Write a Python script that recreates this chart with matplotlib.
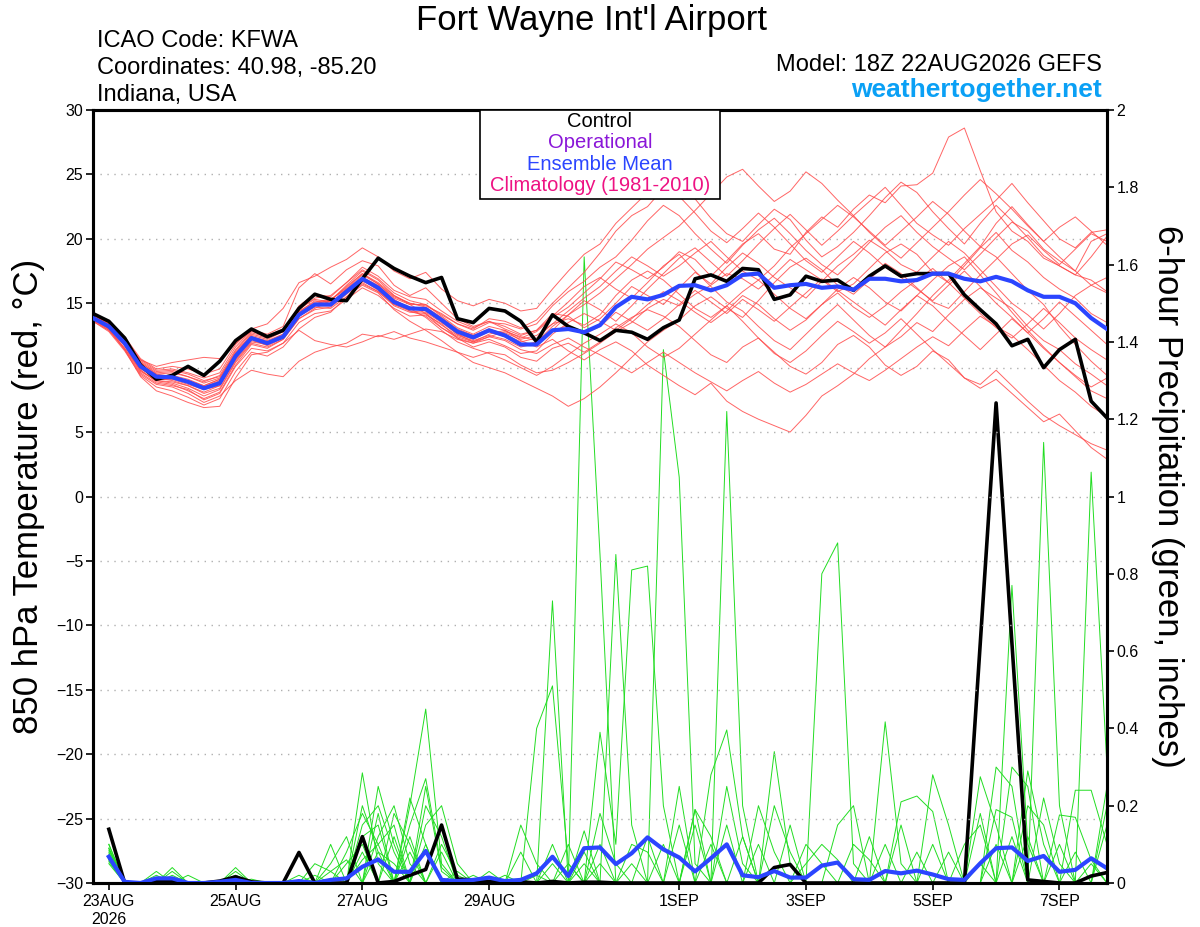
"""
GEFS plume for Fort Wayne (KFWA): 850 hPa temperature and 6-hour precipitation.
Values read off the reference chart.
"""

import pandas as pd
import matplotlib.pyplot as plt

plt.rcParams["font.family"] = ["Liberation Sans", "DejaVu Sans"]

# 6-hourly times: temperatures start at the 18Z analysis, precip at the first 6h total
temp_times = pd.date_range("2026-08-22 18:00", periods=65, freq="6h")
precip_times = pd.date_range("2026-08-23 00:00", periods=64, freq="6h")

tick_dates = pd.to_datetime(["2026-08-23", "2026-08-25", "2026-08-27", "2026-08-29",
                             "2026-09-01", "2026-09-03", "2026-09-05", "2026-09-07"])
tick_labels = ["23AUG\n2026", "25AUG", "27AUG", "29AUG", "1SEP", "3SEP", "5SEP", "7SEP"]

# control run (black) and ensemble mean (blue), 850 hPa temperature in C
control_temp = [14.2, 13.6, 12.3, 10.2, 9.1, 9.4, 10.1, 9.4, 10.5, 12.1, 13.0, 12.4, 12.9,
                14.6, 15.7, 15.3, 15.2, 16.9, 18.5, 17.7, 17.1, 16.6, 17.0, 13.8, 13.5, 14.6,
                14.4, 13.6, 12.0, 14.1, 13.2, 12.7, 12.1, 12.9, 12.75, 12.2, 13.1, 13.7, 16.9,
                17.2, 16.7, 17.7, 17.6, 15.3, 15.65, 17.1, 16.7, 16.8, 16.0, 17.1, 17.9, 17.1,
                17.3, 17.3, 17.3, 15.65, 14.5, 13.4, 11.7, 12.2, 10.0, 11.4, 12.2, 7.4, 6.1]
mean_temp = [13.85, 13.2, 11.9, 10.1, 9.3, 9.25, 8.9, 8.4, 8.8, 10.9, 12.3, 11.9, 12.4,
             14.1, 14.9, 14.9, 15.9, 16.9, 16.2, 15.1, 14.6, 14.55, 13.7, 12.8, 12.35, 12.9,
             12.5, 11.8, 11.8, 12.9, 13.0, 12.75, 13.3, 14.7, 15.5, 15.3, 15.65, 16.35, 16.4,
             16.0, 16.4, 17.2, 17.3, 16.2, 16.4, 16.5, 16.2, 16.3, 16.05, 16.9, 16.9, 16.7,
             16.8, 17.3, 17.3, 16.9, 16.7, 17.05, 16.7, 16.0, 15.5, 15.5, 15.0, 13.85, 13.0]

# ensemble members (red)
red_m01 = [13.9, 13.0, 11.5, 9.8, 8.9, 8.7, 8.2, 7.6, 8.1, 10.2, 11.8, 11.5, 12.2,
           13.8, 14.6, 15.2, 16.4, 17.5, 16.8, 15.6, 14.9, 14.2, 13.1, 12.4, 12.0, 12.6,
           12.9, 12.3, 12.8, 13.9, 14.7, 15.8, 16.9, 18.2, 17.6, 16.9, 17.8, 19.0, 18.4,
           17.1, 18.3, 19.6, 20.4, 19.2, 18.8, 20.5, 21.7, 20.9, 22.3, 23.4, 22.8, 24.1,
           24.2, 25.1, 27.9, 28.6, 25.3, 22.1, 20.6, 19.8, 18.5, 17.9, 17.2, 16.8, 15.9]
red_m02 = [13.6, 12.9, 11.4, 9.3, 8.2, 7.8, 7.3, 6.9, 7.0, 9.2, 11.0, 11.2, 11.9,
           13.5, 14.2, 14.4, 15.3, 16.2, 15.6, 14.6, 14.0, 14.1, 13.4, 12.3, 11.6, 12.0,
           11.6, 10.8, 10.5, 11.5, 11.9, 11.2, 12.0, 13.1, 13.9, 14.5, 14.0, 13.2, 12.1,
           11.0, 10.4, 11.6, 12.3, 11.2, 10.1, 9.5, 10.4, 11.8, 12.5, 11.6, 10.2, 9.4,
           10.1, 11.3, 10.6, 9.2, 8.4, 9.1, 8.0, 6.9, 5.8, 6.4, 5.1, 3.8, 2.9]
red_m03 = [14.0, 13.4, 12.1, 10.4, 9.6, 9.7, 9.3, 8.8, 9.2, 11.3, 12.7, 12.4, 12.9,
           14.5, 15.4, 15.6, 16.6, 17.6, 16.9, 15.8, 15.2, 14.9, 14.0, 13.1, 12.6, 13.2,
           12.9, 12.1, 11.6, 12.2, 11.3, 10.6, 11.4, 12.0, 11.3, 10.2, 9.4, 8.6, 7.9,
           8.8, 7.4, 6.6, 6.0, 5.5, 5.0, 6.3, 7.8, 8.6, 9.5, 10.7, 11.6, 12.4,
           13.5, 12.8, 14.1, 15.3, 16.2, 15.4, 14.6, 13.2, 12.1, 11.4, 10.3, 9.5, 8.6]
red_m04 = [13.8, 13.1, 11.8, 10.0, 9.2, 9.0, 8.6, 8.1, 8.6, 10.6, 12.1, 11.8, 12.5,
           14.3, 15.2, 15.0, 16.1, 17.2, 16.5, 15.4, 14.9, 14.9, 14.1, 13.4, 13.0, 13.8,
           13.6, 13.1, 13.7, 15.0, 16.2, 17.4, 18.9, 20.6, 21.8, 22.5, 23.9, 24.6, 23.1,
           21.6, 20.4, 19.8, 21.1, 22.3, 21.5, 19.9, 18.6, 19.4, 20.5, 21.8, 23.2, 24.4,
           23.6, 22.1, 20.8, 19.6, 21.2, 22.6, 21.4, 20.1, 18.7, 17.9, 17.2, 18.6, 20.2]
red_m05 = [13.7, 13.0, 11.4, 9.5, 8.7, 8.5, 8.0, 7.3, 7.8, 9.0, 9.8, 9.5, 9.3,
           10.5, 11.2, 11.6, 11.9, 12.6, 12.4, 12.8, 12.3, 12.0, 11.6, 11.2, 10.8, 11.2,
           11.0, 10.2, 9.6, 9.8, 10.4, 11.1, 11.9, 12.8, 13.5, 14.6, 15.3, 14.8, 15.7,
           16.4, 17.3, 16.9, 16.1, 17.2, 18.4, 17.6, 16.8, 15.9, 16.5, 17.7, 18.9, 19.6,
           18.8, 17.4, 16.6, 17.9, 19.3, 20.5, 19.1, 18.2, 17.0, 16.1, 15.4, 14.2, 13.5]
red_m06 = [14.1, 13.3, 12.0, 10.6, 10.1, 10.4, 10.6, 10.8, 10.7, 11.9, 12.9, 12.4, 12.8,
           14.0, 14.7, 14.6, 15.5, 16.4, 15.8, 14.5, 13.6, 12.9, 12.1, 11.2, 10.4, 10.0,
           9.6, 9.0, 8.4, 7.8, 7.0, 7.6, 8.5, 9.6, 10.8, 12.0, 12.9, 13.7, 14.8,
           15.5, 14.6, 13.9, 15.2, 16.6, 17.8, 18.5, 17.6, 16.4, 15.7, 16.8, 18.1, 17.3,
           16.2, 15.1, 14.6, 15.9, 17.2, 18.4, 19.6, 20.3, 19.1, 18.0, 19.2, 20.4, 19.8]
red_m07 = [13.9, 13.2, 12.0, 10.2, 9.5, 9.3, 9.0, 8.6, 9.1, 11.2, 12.5, 12.2, 12.8,
           14.8, 15.7, 15.5, 16.6, 17.8, 17.1, 16.0, 15.5, 15.3, 14.4, 13.6, 13.1, 13.6,
           13.2, 12.6, 12.9, 14.0, 15.1, 16.3, 17.0, 16.1, 15.4, 16.6, 17.9, 18.8, 17.5,
           16.3, 15.1, 14.4, 13.2, 12.1, 11.4, 12.6, 13.8, 14.9, 13.7, 12.5, 11.6, 12.9,
           14.2, 15.6, 16.8, 18.1, 19.4, 18.6, 17.3, 16.0, 14.9, 13.2, 11.8, 10.5, 9.4]
red_m08 = [13.8, 13.3, 12.1, 10.4, 9.5, 9.6, 9.3, 8.9, 9.4, 11.4, 12.8, 12.5, 13.0,
           14.6, 15.3, 15.1, 15.9, 16.8, 16.0, 14.9, 14.4, 14.3, 13.5, 12.6, 12.2, 12.8,
           12.4, 11.7, 12.0, 13.2, 14.1, 14.9, 15.8, 16.9, 18.0, 19.2, 20.1, 21.0, 22.2,
           23.5, 24.8, 25.4, 24.1, 22.9, 23.7, 25.2, 24.3, 23.0, 21.8, 22.9, 24.0, 22.6,
           21.2, 20.3, 19.5, 20.8, 21.9, 23.0, 24.3, 22.8, 21.4, 20.0, 19.3, 20.5, 20.7]
red_m09 = [13.6, 12.8, 11.3, 9.4, 8.5, 8.2, 7.7, 7.1, 7.6, 9.7, 11.2, 10.9, 11.6,
           13.0, 13.9, 14.3, 15.5, 16.5, 15.9, 14.9, 14.5, 14.6, 13.8, 12.9, 12.5, 12.9,
           12.7, 12.2, 12.5, 13.4, 13.8, 13.3, 14.1, 15.6, 16.8, 17.5, 16.8, 15.7, 14.6,
           13.9, 14.8, 15.9, 16.8, 15.7, 14.6, 13.8, 14.9, 16.1, 17.0, 16.2, 15.1, 14.4,
           15.6, 16.8, 17.9, 18.6, 17.2, 15.8, 14.3, 12.9, 11.6, 10.4, 9.3, 8.2, 7.6]
red_m10 = [14.0, 13.5, 12.3, 10.6, 9.8, 9.9, 9.6, 9.2, 9.6, 11.6, 12.9, 12.6, 13.2,
           16.2, 17.3, 16.5, 17.6, 18.3, 17.9, 16.4, 15.6, 16.2, 15.0, 13.8, 13.2, 13.6,
           13.0, 12.5, 12.9, 14.2, 14.0, 13.1, 13.8, 15.0, 16.3, 15.6, 14.9, 16.2, 17.4,
           16.5, 17.8, 18.9, 18.1, 17.0, 16.2, 15.4, 16.7, 17.9, 18.8, 19.9, 19.1, 18.0,
           17.4, 18.6, 19.8, 18.9, 17.6, 16.3, 15.0, 14.1, 13.0, 14.2, 15.6, 16.4, 17.0]
red_m11 = [13.8, 13.0, 11.7, 9.8, 9.0, 8.8, 8.4, 7.8, 8.3, 10.4, 11.9, 11.6, 12.2,
           13.8, 14.5, 14.7, 15.7, 16.7, 16.2, 15.2, 14.7, 14.4, 13.6, 12.6, 12.0, 12.4,
           12.1, 11.4, 11.1, 11.8, 12.3, 11.6, 11.0, 10.3, 9.6, 10.4, 11.2, 10.4, 9.6,
           8.9, 8.2, 9.0, 9.7, 8.8, 8.1, 8.7, 9.5, 10.3, 9.6, 9.0, 9.8, 10.7,
           11.6, 12.4, 11.7, 12.9, 14.0, 13.2, 12.5, 11.4, 10.2, 9.0, 8.1, 7.0, 6.2]
red_m12 = [14.1, 13.4, 12.2, 10.5, 9.7, 9.8, 9.5, 9.0, 9.3, 11.1, 12.6, 12.3, 12.8,
           14.4, 15.1, 15.3, 16.2, 17.3, 16.5, 15.5, 15.0, 14.8, 14.2, 13.4, 12.9, 13.5,
           13.4, 13.0, 13.4, 14.8, 15.9, 16.7, 17.8, 18.6, 19.9, 21.4, 22.6, 21.8, 20.4,
           19.2, 18.1, 19.5, 20.7, 21.6, 20.4, 19.1, 18.0, 17.2, 18.4, 19.7, 20.9, 21.8,
           20.5, 19.4, 18.5, 17.6, 18.8, 20.1, 21.3, 20.6, 19.2, 18.3, 17.5, 16.4, 15.8]
red_m13 = [13.7, 13.1, 11.9, 10.1, 9.1, 9.1, 8.7, 8.3, 8.6, 10.7, 12.2, 11.7, 12.3,
           14.0, 14.8, 14.8, 15.8, 16.9, 16.3, 15.1, 14.4, 14.0, 13.1, 12.3, 11.9, 12.2,
           11.7, 11.1, 11.3, 12.6, 13.5, 14.2, 13.6, 12.9, 13.8, 14.9, 15.9, 15.2, 14.3,
           13.5, 14.4, 15.6, 14.9, 13.8, 12.9, 13.7, 14.9, 15.8, 14.7, 13.9, 14.8, 15.9,
           16.8, 17.7, 16.6, 15.4, 14.2, 13.1, 12.3, 13.4, 14.6, 13.5, 12.3, 11.4, 10.6]
red_m14 = [14.0, 13.3, 11.8, 9.9, 9.2, 9.2, 8.8, 8.5, 9.0, 11.1, 12.4, 12.1, 12.6,
           14.2, 15.0, 15.2, 16.3, 17.3, 16.6, 15.6, 15.0, 14.7, 13.9, 13.0, 12.5, 13.0,
           12.6, 12.0, 12.3, 13.4, 14.4, 15.4, 16.3, 17.5, 18.6, 17.9, 17.1, 17.9, 18.9,
           19.8, 18.6, 17.5, 16.8, 17.9, 19.3, 20.4, 21.5, 22.6, 21.7, 20.6, 19.5, 20.6,
           21.7, 22.9, 21.9, 20.6, 19.4, 21.2, 22.5, 21.1, 19.8, 18.6, 17.5, 19.8, 20.4]
red_m15 = [13.9, 13.1, 11.7, 9.7, 9.0, 8.9, 8.6, 8.0, 8.4, 10.5, 12.0, 11.8, 12.4,
           14.0, 14.9, 15.3, 16.1, 17.0, 16.4, 15.3, 14.6, 13.9, 12.9, 12.0, 11.5, 11.1,
           10.6, 10.0, 9.4, 10.1, 11.0, 11.9, 12.6, 13.4, 12.7, 11.6, 10.8, 11.5, 12.6,
           13.7, 14.8, 13.6, 12.3, 11.1, 10.4, 11.3, 12.5, 13.6, 12.8, 11.9, 12.7, 13.8,
           12.6, 11.4, 10.3, 9.2, 8.7, 9.8, 8.6, 7.4, 6.3, 5.5, 4.8, 4.1, 3.6]
red_m16 = [14.2, 13.5, 12.4, 10.7, 9.9, 10.1, 9.9, 9.5, 9.9, 11.8, 13.0, 13.4, 14.6,
           16.6, 17.1, 17.8, 18.4, 19.3, 18.6, 17.5, 16.9, 17.4, 16.1, 15.2, 14.8, 15.3,
           15.0, 14.4, 14.6, 16.1, 17.5, 18.8, 19.6, 21.2, 22.4, 23.6, 24.5, 23.3, 22.0,
           20.6, 19.7, 20.8, 22.0, 20.9, 19.6, 18.3, 17.4, 18.6, 19.8, 18.9, 17.8, 17.0,
           16.1, 15.2, 16.4, 17.5, 16.3, 15.0, 13.9, 12.7, 13.8, 15.1, 14.0, 12.9, 11.8]
red_m17 = [13.7, 12.9, 11.5, 9.6, 8.8, 8.6, 8.3, 7.5, 8.0, 10.1, 11.5, 11.3, 11.9,
           12.9, 12.1, 11.8, 11.6, 12.0, 12.5, 12.2, 12.6, 13.0, 12.8, 12.2, 11.9, 12.4,
           12.8, 12.4, 12.1, 12.9, 14.1, 15.2, 14.5, 13.6, 14.8, 16.1, 17.3, 18.5, 19.3,
           18.2, 17.1, 18.3, 19.6, 20.8, 21.9, 20.7, 19.5, 20.6, 21.8, 20.5, 19.4, 18.5,
           19.7, 20.9, 22.1, 23.4, 24.6, 23.5, 22.3, 21.0, 19.8, 20.9, 21.7, 20.6, 19.5]
red_m18 = [13.8, 13.2, 12.0, 10.3, 9.4, 9.4, 9.1, 8.6, 9.1, 11.0, 12.4, 12.0, 12.6,
           14.3, 15.0, 14.9, 15.8, 16.6, 15.9, 14.8, 14.3, 14.2, 13.3, 12.5, 12.1, 12.5,
           12.2, 11.6, 11.9, 12.8, 13.3, 12.6, 13.2, 14.3, 13.6, 12.9, 13.8, 14.9, 16.0,
           15.1, 14.2, 15.3, 14.5, 13.6, 14.7, 15.8, 16.9, 16.0, 15.1, 14.2, 13.3, 14.5,
           15.6, 14.8, 13.6, 12.5, 11.4, 12.6, 13.8, 12.7, 11.5, 10.4, 9.4, 8.5, 9.2]
red_members = [red_m01, red_m02, red_m03, red_m04, red_m05, red_m06, red_m07, red_m08, red_m09,
               red_m10, red_m11, red_m12, red_m13, red_m14, red_m15, red_m16, red_m17, red_m18]

# 6-hour precipitation, inches: control (black) and ensemble mean (blue)
control_precip = [0.139, 0.0, 0.0, 0.004, 0.004, 0.0, 0.0, 0.005, 0.016, 0.003, 0.0, 0.0, 0.079,
                  0.0, 0.0, 0.0, 0.12, 0.0, 0.004, 0.02, 0.035, 0.15, 0.01, 0.008, 0.004, 0.005,
                  0.003, 0.0, 0.004, 0.0, 0.002, 0.002, 0.0, 0.0, 0.0, 0.0, 0.0, 0.0, 0.0,
                  0.0, 0.0, 0.0, 0.04, 0.048, 0.0, 0.0, 0.0, 0.0, 0.0, 0.0, 0.0, 0.0,
                  0.0, 0.0, 0.0, 0.62, 1.242, 0.62, 0.008, 0.004, 0.0, 0.0, 0.018, 0.027]
mean_precip = [0.068, 0.003, 0.0, 0.012, 0.012, 0.0, 0.0, 0.003, 0.008, 0.0, 0.0, 0.0, 0.005,
               0.0, 0.008, 0.012, 0.042, 0.061, 0.029, 0.029, 0.083, 0.008, 0.005, 0.008, 0.014, 0.005,
               0.008, 0.025, 0.068, 0.018, 0.09, 0.092, 0.049, 0.077, 0.118, 0.087, 0.066, 0.03, 0.064,
               0.1, 0.02, 0.015, 0.031, 0.014, 0.014, 0.045, 0.053, 0.010, 0.008, 0.031, 0.025, 0.032,
               0.022, 0.01, 0.008, 0.051, 0.09, 0.092, 0.057, 0.07, 0.029, 0.034, 0.064, 0.038]

# ensemble members (green): {6-hour step: inches}, every other step is dry
green_m01 = {0: 0.08, 4: 0.02, 16: 0.285, 17: 0.05, 20: 0.1, 28: 0.73, 35: 0.1,
             45: 0.8, 46: 0.88, 47: 0.05, 57: 0.77, 58: 0.1}
green_m02 = {0: 0.1, 3: 0.03, 8: 0.04, 14: 0.05, 15: 0.12, 19: 0.2, 20: 0.45, 21: 0.05,
             30: 1.62, 31: 0.85, 37: 0.19, 38: 0.12, 59: 1.14, 60: 0.2}
green_m03 = {0: 0.06, 4: 0.04, 13: 0.02, 16: 0.15, 17: 0.2, 18: 0.08, 27: 0.4, 28: 0.51,
             29: 0.05, 35: 1.38, 36: 1.05, 37: 0.05, 49: 0.417, 50: 0.05, 62: 1.063, 63: 0.3}
green_m04 = {0: 0.07, 5: 0.02, 8: 0.02, 15: 0.05, 16: 0.1, 18: 0.18, 19: 0.1, 26: 0.15,
             27: 0.05, 32: 0.85, 33: 0.15, 39: 1.22, 40: 0.2, 55: 0.275, 56: 0.15}
green_m05 = {0: 0.09, 3: 0.02, 17: 0.25, 18: 0.1, 20: 0.2, 21: 0.12, 31: 0.39, 32: 0.1,
             33: 0.81, 34: 0.82, 35: 0.2, 42: 0.34, 43: 0.05, 61: 0.24, 62: 0.24, 63: 0.1}
green_m06 = {0: 0.05, 8: 0.03, 14: 0.1, 16: 0.2, 17: 0.08, 21: 0.1, 22: 0.02, 30: 0.135,
             38: 0.28, 39: 0.396, 40: 0.12, 52: 0.28, 53: 0.15, 56: 0.19, 57: 0.17}
green_m07 = {0: 0.085, 4: 0.03, 12: 0.02, 16: 0.12, 17: 0.15, 19: 0.22, 20: 0.1, 26: 0.08,
             34: 0.12, 37: 0.19, 42: 0.2, 43: 0.08, 50: 0.21, 51: 0.225, 52: 0.185, 58: 0.29, 59: 0.1}
green_m08 = {0: 0.075, 9: 0.01, 15: 0.08, 16: 0.18, 17: 0.1, 18: 0.15, 20: 0.25, 21: 0.03,
             29: 0.05, 31: 0.1, 36: 0.15, 41: 0.1, 44: 0.1, 45: 0.05, 60: 0.176, 61: 0.17, 62: 0.06}
green_m09 = {0: 0.065, 13: 0.05, 14: 0.03, 17: 0.12, 18: 0.2, 19: 0.05, 22: 0.03, 28: 0.1,
             30: 0.05, 40: 0.12, 47: 0.1, 48: 0.06, 54: 0.1, 55: 0.15, 57: 0.3, 58: 0.25, 63: 0.2}
green_m10 = {0: 0.09, 4: 0.01, 16: 0.06, 17: 0.1, 19: 0.15, 20: 0.27, 21: 0.04, 25: 0.02,
             33: 0.1, 34: 0.08, 44: 0.05, 45: 0.1, 46: 0.06, 51: 0.08, 56: 0.1, 58: 0.2, 59: 0.15, 63: 0.15}
green_m11 = {0: 0.1, 18: 0.12, 21: 0.08, 27: 0.02, 30: 0.08, 36: 0.25, 38: 0.1, 48: 0.12,
             52: 0.1, 57: 0.12, 61: 0.08}
green_m12 = {0: 0.055, 16: 0.08, 19: 0.08, 24: 0.03, 29: 0.1, 31: 0.05, 39: 0.15, 43: 0.15,
             49: 0.1, 55: 0.05, 58: 0.12, 62: 0.05}
green_m13 = {0: 0.07, 3: 0.01, 8: 0.02, 17: 0.08, 18: 0.05, 20: 0.15, 21: 0.2, 22: 0.05,
             28: 0.05, 33: 0.05, 39: 0.25, 40: 0.05, 46: 0.15, 47: 0.2, 53: 0.08, 56: 0.3,
             57: 0.25, 60: 0.1, 63: 0.25}
green_m14 = {0: 0.06, 14: 0.03, 15: 0.06, 17: 0.18, 19: 0.12, 23: 0.02, 31: 0.18, 32: 0.05,
             37: 0.15, 41: 0.2, 42: 0.08, 50: 0.15, 55: 0.18, 59: 0.22, 60: 0.05}
green_members = [green_m01, green_m02, green_m03, green_m04, green_m05, green_m06, green_m07,
                 green_m08, green_m09, green_m10, green_m11, green_m12, green_m13, green_m14]

W, H = 1200, 927
fig = plt.figure(figsize=(W / 100, H / 100), dpi=100)
ax = fig.add_axes([93 / W, 1 - 883 / H, (1107 - 93) / W, (883 - 110) / H])
ax2 = ax.twinx()
# temperatures drawn above the precipitation axis
ax.set_zorder(ax2.get_zorder() + 1)
ax.patch.set_visible(False)

# precipitation (right axis)
for m in green_members:
    vals = [m.get(j, 0.0) for j in range(len(precip_times))]
    ax2.plot(precip_times, vals, color="#22dd22", lw=0.7, zorder=2)
ax2.plot(precip_times, control_precip, color="black", lw=2.6, zorder=4)
ax2.plot(precip_times, mean_precip, color="#2b45ff", lw=3.0, zorder=5)

# temperature (left axis)
for yv in range(-25, 30, 5):
    ax.axhline(yv, color="#b0b0b0", lw=1.0, ls=(0, (1, 4)), zorder=0)
for m in red_members:
    ax.plot(temp_times, m, color="#ff4a4a", lw=0.7, alpha=0.85, zorder=2)
ax.plot(temp_times, control_temp, color="black", lw=2.6, zorder=4)
ax.plot(temp_times, mean_temp, color="#2b45ff", lw=3.0, zorder=5)

ax.set_xlim(pd.Timestamp("2026-08-22 18:00"), pd.Timestamp("2026-09-07 18:00"))
ax.set_ylim(-30, 30)
ax2.set_ylim(0, 2)
ax.set_yticks(range(-30, 31, 5))
ax2.set_yticks([i / 5 for i in range(11)])
ax2.set_yticklabels(["0", "0.2", "0.4", "0.6", "0.8", "1", "1.2", "1.4", "1.6", "1.8", "2"])
ax.set_xticks(tick_dates)
ax.set_xticklabels(tick_labels)

for a in (ax, ax2):
    for s in a.spines.values():
        s.set_linewidth(2.2)
    a.tick_params(direction="out", length=5, width=1.2, labelsize=11.5, pad=2)
ax.tick_params(axis="x", pad=3)

ax.set_ylabel("850 hPa Temperature (red, °C)", fontsize=25, labelpad=8)
ax2.set_ylabel("6-hour Precipitation (green, inches)", fontsize=25, rotation=270,
               labelpad=32)

# legend box
lx0, lx1, ly0, ly1 = 480 / W, 720 / W, 1 - 199 / H, 1 - 110 / H
fig.patches.append(plt.Rectangle((lx0, ly0), lx1 - lx0, ly1 - ly0, transform=fig.transFigure,
                                 fill=True, facecolor="white", edgecolor="black", lw=1.2,
                                 zorder=10))
legend_items = [("Control", "black"), ("Operational", "#8a16d8"),
                ("Ensemble Mean", "#2b45ff"), ("Climatology (1981-2010)", "#ee1283")]
for k, (txt, col) in enumerate(legend_items):
    fig.text(600 / W, 1 - (127 + 21.3 * k) / H, txt, color=col, fontsize=14.5,
             ha="center", va="baseline", zorder=11)

# titles
fig.text(592 / W, 1 - 30 / H, "Fort Wayne Int'l Airport", fontsize=25, ha="center",
         va="baseline")
for k, txt in enumerate(["ICAO Code: KFWA", "Coordinates: 40.98, -85.20", "Indiana, USA"]):
    fig.text(97 / W, 1 - (47 + 26.8 * k) / H, txt, fontsize=17, ha="left", va="baseline")
fig.text(1102 / W, 1 - 71 / H, "Model: 18Z 22AUG2026 GEFS", fontsize=17, ha="right",
         va="baseline")
fig.text(1102 / W, 1 - 97 / H, "weathertogether.net", fontsize=19, fontweight="bold",
         color="#0aa0f5", ha="right", va="baseline")

fig.savefig("out.png", dpi=100)
